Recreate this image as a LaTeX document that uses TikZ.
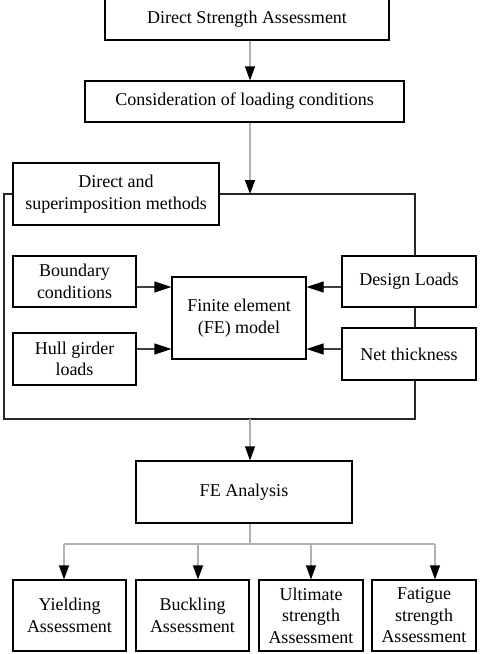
\documentclass[tikz,border=0pt]{standalone}
\usepackage{fontspec}
\setmainfont{Liberation Serif}
\usetikzlibrary{arrows.meta, calc}

\tikzset{
  box/.style={draw, line width=1.1pt, fill=white, align=center, inner sep=0pt,
    font=\fontsize{18}{21.5}\selectfont},
  link/.style={draw=black!30, line width=1.1pt,
    -{Triangle[length=14pt, width=10pt, black]}},
  feed/.style={draw=black!75, line width=1.1pt,
    -{Triangle[length=17pt, width=11pt, black]}},
  frame/.style={draw=black!85, line width=1.1pt},
  branch/.style={draw=black!30, line width=1.1pt}
}

\begin{document}
\begin{tikzpicture}[x=1pt, y=-1pt]
    \useasboundingbox (0,0) rectangle (480,654);

    \node[box, minimum width=284pt, minimum height=42pt] (dsa) at (247,19)
        {Direct Strength Assessment};
    \node[box, minimum width=319pt, minimum height=41pt] (cons) at (244.5,101.5)
        {Consideration of loading conditions};
    \node[box, minimum width=206pt, minimum height=62pt] (direct) at (116,194)
        {Direct and\\superimposition methods};

    \coordinate (spine) at (250,0);
    \coordinate (ftop) at (250,194);
    \coordinate (fbot) at (250,419);
    \coordinate (split) at (250,544);

    \draw[frame] (direct.west) -- (4,194) -- (4,419) -- (415,419)
        -- (415,194) -- (direct.east);

    \node[box, minimum width=123pt, minimum height=51pt] (bound) at (74.5,281.5)
        {Boundary\\conditions};
    \node[box, minimum width=123pt, minimum height=52pt] (hull) at (74.5,359)
        {Hull girder\\loads};
    \node[box, minimum width=134pt, minimum height=82pt] (fem) at (239,318)
        {Finite element\\(FE) model};
    \node[box, minimum width=134pt, minimum height=51pt] (design) at (409,281.5)
        {Design Loads};
    \node[box, minimum width=134pt, minimum height=52pt] (net) at (409,354)
        {Net thickness};

    \node[box, minimum width=216pt, minimum height=62pt] (fea) at (244,492)
        {FE Analysis};
    \node[box, minimum width=113pt, minimum height=71pt] (yield) at (69.5,615.5)
        {Yielding\\Assessment};
    \node[box, minimum width=113pt, minimum height=71pt] (buck) at (192.5,615.5)
        {Buckling\\Assessment};
    \node[box, minimum width=104pt, minimum height=71pt] (ult) at (311,615.5)
        {Ultimate\\strength\\Assessment};
    \node[box, minimum width=104pt, minimum height=71pt] (fat) at (424,615.5)
        {Fatigue\\strength\\Assessment};

    % main chain
    \draw[link] (dsa.south -| spine) -- (cons.north -| spine);
    \draw[link] (cons.south -| spine) -- (ftop);
    \draw[link] (fbot) -- (fea.north -| spine);

    % inputs to the FE model
    \coordinate (upper) at ([yshift=31pt]fem.center);
    \coordinate (lower) at ([yshift=-31pt]fem.center);
    \draw[feed] (bound.east |- upper) -- (fem.west |- upper);
    \draw[feed] (hull.east |- lower) -- (fem.west |- lower);
    \draw[feed] (design.west |- upper) -- (fem.east |- upper);
    \draw[feed] (net.west |- lower) -- (fem.east |- lower);

    % assessments
    \draw[branch] (fea.south -| spine) -- (split);
    \draw[branch] ([xshift=-5.5pt]yield.north |- split)
        -- ([xshift=11pt]fat.north |- split);
    \draw[link] ([xshift=-5.5pt]yield.north |- split) -- ([xshift=-5.5pt]yield.north);
    \draw[link] ([xshift=5.5pt]buck.north |- split) -- ([xshift=5.5pt]buck.north);
    \draw[link] (ult.north |- split) -- (ult.north);
    \draw[link] ([xshift=11pt]fat.north |- split) -- ([xshift=11pt]fat.north);
\end{tikzpicture}
\end{document}
